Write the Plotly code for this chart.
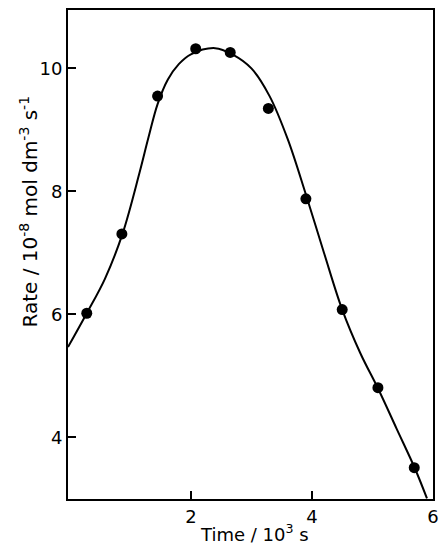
import plotly.graph_objects as go

# Measured data points (Time / 10^3 s, Rate / 10^-8 mol dm^-3 s^-1)
time_pts = [0.28, 0.86, 1.45, 2.08, 2.65, 3.28, 3.90, 4.50, 5.09, 5.69]
rate_pts = [6.02, 7.31, 9.55, 10.32, 10.26, 9.35, 7.88, 6.08, 4.81, 3.51]

# Smooth fitted curve
curve_time = [-0.03, 0.28, 0.58, 0.87, 1.15, 1.30, 1.45, 1.62, 1.80, 2.00, 2.40, 2.70, 3.00, 3.30, 3.60, 3.90, 4.20, 4.50, 4.80, 5.10, 5.40, 5.70, 5.90]
curve_rate = [5.47, 6.02, 6.58, 7.31, 8.30, 8.88, 9.42, 9.82, 10.07, 10.23, 10.33, 10.22, 10.00, 9.55, 8.85, 7.95, 7.00, 6.08, 5.37, 4.78, 4.14, 3.50, 3.01]

x_ticks = [2, 4, 6]
y_ticks = [4, 6, 8, 10]

FONT = "DejaVu Sans"

fig = go.Figure()
fig.add_trace(go.Scatter(x=curve_time, y=curve_rate, mode="lines",
                         line=dict(color="black", width=2, shape="spline", smoothing=1.0),
                         hoverinfo="skip", showlegend=False))
fig.add_trace(go.Scatter(x=time_pts, y=rate_pts, mode="markers",
                         marker=dict(color="black", size=11),
                         showlegend=False))

fig.update_layout(
    width=443, height=546,
    margin=dict(l=68, r=4, t=10, b=47),
    paper_bgcolor="white", plot_bgcolor="white",
    font=dict(family=FONT, size=18, color="black"),
    xaxis=dict(range=[-0.03, 6.0], tickvals=x_ticks, ticktext=[str(v) for v in x_ticks],
               ticks="inside", ticklen=8, tickwidth=2, tickcolor="black",
               showline=True, linecolor="black", linewidth=2, mirror=True,
               showgrid=False, zeroline=False),
    yaxis=dict(range=[3.0, 10.95], tickvals=y_ticks, ticktext=[str(v) for v in y_ticks],
               ticks="inside", ticklen=8, tickwidth=2, tickcolor="black",
               showline=True, linecolor="black", linewidth=2, mirror=True,
               showgrid=False, zeroline=False),
    annotations=[
        dict(text="Rate / 10<sup>-8</sup> mol dm<sup>-3</sup> s<sup>-1</sup>",
             xref="paper", yref="paper", x=-0.108, y=0.587,
             xanchor="center", yanchor="middle", textangle=-90,
             showarrow=False, font=dict(family=FONT, size=20, color="black")),
        dict(text="Time / 10<sup>3</sup> s",
             xref="paper", yref="paper", x=0.512, y=-0.069,
             xanchor="center", yanchor="middle",
             showarrow=False, font=dict(family=FONT, size=18, color="black")),
    ],
)

fig.write_html("out.html", config={"displayModeBar": False},
               post_script="document.body.style.margin='0';")
